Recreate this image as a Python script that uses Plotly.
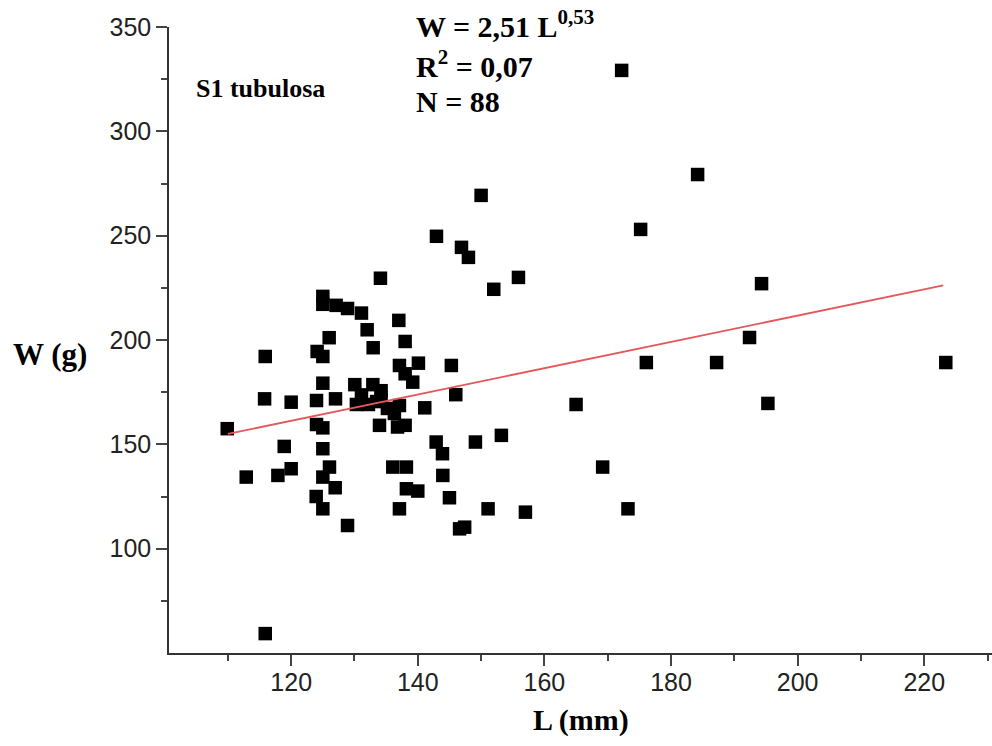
import plotly.graph_objects as go

# Length L (mm) and weight W (g) of S1 tubulosa
L_mm = [172.2, 184.2, 150.0, 175.2, 142.95, 146.9, 148.0, 155.9, 152.0, 134.1,
        194.3, 223.4, 192.4, 176.1, 187.2, 165.0, 195.3, 169.2, 173.2, 153.2,
        149.1, 151.1, 157.0, 125.0, 125.0, 127.1, 128.9, 131.1, 132.0, 137.0,
        126.0, 138.0, 132.95, 124.1, 125.0, 115.9, 137.1, 140.1, 138.0, 139.2,
        145.3, 125.0, 115.8, 120.0, 124.0, 127.0, 141.1, 146.0, 109.9, 124.0,
        125.0, 133.95, 136.8, 138.0, 118.9, 125.0, 142.9, 143.9, 112.9, 117.9,
        120.0, 126.05, 125.0, 126.95, 136.05, 138.2, 143.95, 138.2, 140.0, 123.95,
        125.0, 145.0, 137.1, 128.9, 146.6, 147.4, 115.9, 130.05, 132.9, 130.3,
        132.2, 134.2, 135.2, 137.1, 134.2, 131.1, 136.3, 133.5]
W_g = [329.2, 279.3, 269.3, 253.0, 249.7, 244.4, 239.6, 230.0, 224.3, 229.6,
       227.0, 189.2, 201.2, 189.2, 189.2, 169.1, 169.6, 139.1, 119.1, 154.3,
       151.1, 119.1, 117.5, 220.9, 217.1, 216.6, 215.1, 212.9, 204.9, 209.4,
       201.1, 199.3, 196.3, 194.5, 192.1, 192.1, 187.8, 188.9, 183.8, 179.8,
       187.8, 179.3, 171.8, 170.2, 171.0, 171.8, 167.5, 173.8, 157.5, 159.5,
       157.9, 159.1, 158.3, 159.1, 149.0, 147.9, 151.1, 145.5, 134.3, 135.1,
       138.3, 139.1, 134.3, 129.2, 139.1, 139.1, 135.1, 128.7, 127.6, 125.0,
       119.1, 124.4, 119.1, 111.1, 109.5, 110.3, 59.3, 178.6, 178.6, 169.1,
       169.1, 172.4, 167.2, 168.6, 175.7, 173.7, 164.8, 170.5]

# fitted trend line end points (as drawn in the reference)
fit_L = [110.0, 223.0]
fit_W = [155.0, 226.2]

x_major = [120, 140, 160, 180, 200, 220]
x_minor = [110, 130, 150, 170, 190, 210, 230]
y_major = [100, 150, 200, 250, 300, 350]
y_minor = [75, 125, 175, 225, 275, 325]

W, H = 992, 746
ML, MR, MT, MB = 169, 0, 27, 93
PW, PH = W - ML - MR, H - MT - MB


def px(x):
    return (x - ML) / PW


def py(y):
    return (H - MB - y) / PH


fig = go.Figure()
fig.add_trace(go.Scatter(
    x=L_mm, y=W_g, mode="markers",
    marker=dict(symbol="square", size=13.5, color="black", line=dict(width=0)),
    showlegend=False, cliponaxis=False))
fig.add_trace(go.Scatter(
    x=fit_L, y=fit_W, mode="lines",
    line=dict(color="#E5575A", width=1.8), showlegend=False))

axis_common = dict(
    showgrid=False, zeroline=False, showline=True, linecolor="#333",
    linewidth=1.5, ticks="outside", tickcolor="#444", tickwidth=1.5,
    ticklen=11, tickfont=dict(family="Liberation Sans", size=25, color="#222"),
)

fig.update_xaxes(range=[100.7, 230.7], tickvals=x_major,
                 ticklabelstandoff=-5,
                 minor=dict(tickvals=x_minor, ticks="outside", ticklen=6,
                            tickcolor="#444", tickwidth=1.5),
                 **axis_common)
fig.update_yaxes(range=[50, 350], tickvals=y_major,
                 minor=dict(tickvals=y_minor, ticks="outside", ticklen=6,
                            tickcolor="#444", tickwidth=1.5),
                 **axis_common)

serif = "Liberation Serif"
anns = [
    dict(text="<b>W = 2,51 L<sup>0,53</sup></b>", x=px(414), y=py(24), size=30),
    dict(text="<b>R<sup>2</sup> = 0,07</b>", x=px(414), y=py(64), size=30),
    dict(text="<b>N = 88</b>", x=px(414), y=py(102), size=30),
    dict(text="<b>S1 tubulosa</b>", x=px(194), y=py(88), size=26),
]
for a in anns:
    fig.add_annotation(text=a["text"], x=a["x"], y=a["y"], xref="paper",
                       yref="paper", xanchor="left", yanchor="middle",
                       showarrow=False,
                       font=dict(family=serif, size=a["size"], color="black"))

fig.add_annotation(text="<b>W (g)</b>", x=px(50), y=py(355), xref="paper",
                   yref="paper", xanchor="center", yanchor="middle",
                   showarrow=False,
                   font=dict(family=serif, size=31, color="black"))
fig.add_annotation(text="<b>L (mm)</b>", x=px(581), y=py(720), xref="paper",
                   yref="paper", xanchor="center", yanchor="middle",
                   showarrow=False,
                   font=dict(family=serif, size=30, color="black"))

fig.update_layout(
    width=W, height=H,
    margin=dict(l=ML, r=MR, t=MT, b=MB),
    paper_bgcolor="white", plot_bgcolor="white",
)

fig.write_html("out.html")
